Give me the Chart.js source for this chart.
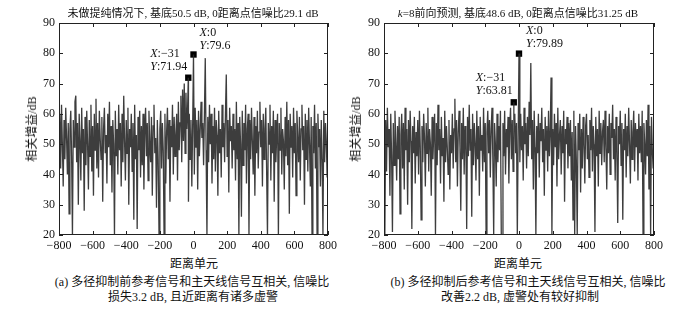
<!DOCTYPE html>
<html lang="zh">
<head>
<meta charset="UTF-8">
<title>互相关对比</title>
<script src="https://cdn.jsdelivr.net/npm/chart.js"></script>
<style>
  body { margin: 0; background: #fff; }
  #wrap { position: relative; width: 684px; height: 310px; overflow: hidden; font-family: "Liberation Serif", "Noto Sans CJK SC", serif; color: #111; }
  .panel { position: absolute; top: 0; width: 342px; height: 250px; }
  .txt { position: absolute; white-space: nowrap; transform: translate(-50%, -50%); }
  .t11 { font-size: 11px; }
  .t12 { font-size: 12px; }
  .ylab { transform: translate(-50%, -50%) rotate(-90deg); font-size: 12px; }
</style>
</head>
<body>
<div id="wrap">
  <div class="panel" style="left:0"><canvas id="chartA" width="342" height="250"></canvas></div>
  <div class="panel" style="left:342px"><canvas id="chartB" width="342" height="250"></canvas></div>

  <div class="txt t11" style="left:193px;top:12px">未做提纯情况下, 基底50.5 dB, 0距离点信噪比29.1 dB</div>
  <div class="txt t11" style="left:518px;top:12px"><i>k</i>=8前向预测, 基底48.6 dB, 0距离点信噪比31.25 dB</div>

  <div class="txt ylab" style="left:31px;top:129px">相关增益/dB</div>
  <div class="txt ylab" style="left:355px;top:129px">相关增益/dB</div>

  <div class="txt t12" style="left:194px;top:263px">距离单元</div>
  <div class="txt t12" style="left:518px;top:263px">距离单元</div>

  <div class="txt t12" style="left:192px;top:281px">(a) 多径抑制前参考信号和主天线信号互相关, 信噪比</div>
  <div class="txt t12" style="left:193px;top:296px">损失3.2 dB, 且近距离有诸多虚警</div>
  <div class="txt t12" style="left:528px;top:281px">(b) 多径抑制后参考信号和主天线信号互相关, 信噪比</div>
  <div class="txt t12" style="left:520px;top:296px">改善2.2 dB, 虚警处有较好抑制</div>
</div>

<script>
// range cells, -800..800 step 5
const xStart = -800, xStep = 5;

// (a) before multipath suppression
const gainA = [
  48, 60, 42, 63, 50, 36, 58, 45, 62, 52, 40, 57, 27, 55, 61, 46, 20, 58, 49, 64,
  66, 44, 57, 30, 60, 51, 38, 62, 47, 55, 28, 59, 43, 61, 50, 35, 58, 46, 63, 41,
  56, 33, 60, 48, 65, 42, 57, 39, 61, 52, 45, 59, 31, 55, 62, 47, 53, 37, 60, 49,
  64, 43, 56, 34, 58, 50, 20, 61, 46, 55, 40, 63, 48, 57, 36, 60, 44, 66, 51, 38,
  58, 47, 62, 30, 55, 49, 60, 41, 57, 25, 63, 45, 53, 22, 59, 48, 61, 39, 56, 43,
  60, 35, 54, 62, 46, 57, 38, 61, 50, 44, 59, 33, 56, 63, 47, 52, 29, 58, 45, 20,
  55, 61, 42, 57, 48, 20, 60, 37, 54, 62, 45, 58, 31, 56, 49, 63, 40, 59, 46, 53,
  60, 38, 64, 48, 57, 66, 44, 68, 51, 70, 47, 67, 55, 62, 31, 60, 45, 58, 36, 56,
  79.6, 40, 62, 49, 58, 35, 61, 46, 55, 64, 52, 57, 43, 60, 78.4, 48, 20, 59, 44, 63,
  50, 60, 37, 56, 45, 62, 41, 58, 53, 33, 61, 47, 55, 39, 63, 49, 57, 44, 60, 73,
  46, 58, 34, 62, 51, 56, 42, 60, 48, 55, 38, 64, 45, 57, 20, 59, 50, 26, 61, 43,
  57, 48, 63, 37, 55, 60, 20, 58, 45, 62, 51, 40, 59, 33, 56, 47, 61, 42, 54, 64,
  49, 58, 36, 60, 45, 55, 62, 41, 20, 57, 50, 63, 38, 56, 47, 61, 31, 58, 44, 53,
  60, 20, 57, 48, 62, 40, 55, 51, 35, 59, 46, 64, 43, 58, 27, 60, 49, 56, 39, 62,
  47, 57, 33, 61, 52, 44, 59, 38, 55, 63, 48, 56, 30, 60, 45, 58, 41, 62, 50, 36,
  59, 20, 56, 47, 63, 42, 57, 20, 60, 49, 55, 36, 58, 45, 20, 61, 44, 57, 51, 39,
  55
];
const extraXA = [-31];
const extraYA = [71.94];
const markXA = [-31, 0];
const markYA = [71.94, 79.6];
const markTextA = [['-31', '71.94'], ['0', '79.6']];

// (b) after multipath suppression, k=8 forward prediction
const gainB = [
  44, 20, 58, 41, 62, 49, 55, 33, 60, 46, 21, 57, 43, 61, 50, 38, 56, 45, 59, 27,
  53, 60, 42, 57, 35, 62, 48, 55, 30, 58, 44, 61, 51, 22, 56, 47, 59, 37, 54, 46,
  58, 40, 61, 49, 25, 56, 44, 60, 52, 36, 57, 47, 62, 41, 55, 50, 33, 59, 45, 54,
  60, 20, 57, 43, 63, 48, 55, 37, 59, 46, 52, 31, 61, 44, 56, 49, 40, 58, 35, 53,
  47, 60, 42, 55, 65, 44, 58, 36, 54, 61, 49, 28, 57, 45, 62, 40, 56, 51, 22, 59,
  46, 63, 48, 55, 26, 60, 43, 57, 50, 38, 61, 45, 56, 33, 59, 48, 53, 41, 62, 44,
  57, 20, 54, 61, 47, 58, 39, 55, 62, 45, 20, 57, 50, 36, 60, 44, 56, 48, 61, 20,
  20, 57, 46, 61, 40, 55, 49, 59, 37, 56, 62, 45, 58, 41, 54, 60, 47, 57, 20, 52,
  79.89, 44, 60, 48, 56, 38, 62, 50, 57, 42, 59, 46, 64, 53, 76.8, 45, 58, 35, 61, 49,
  20, 56, 47, 60, 39, 57, 51, 62, 44, 55, 33, 59, 48, 56, 41, 61, 46, 54, 72, 20,
  55, 43, 60, 49, 57, 36, 62, 45, 53, 58, 40, 56, 47, 61, 31, 55, 50, 59, 42, 57,
  46, 58, 38, 54, 25, 61, 20, 56, 44, 20, 57, 48, 60, 34, 55, 42, 59, 50, 37, 56,
  60, 45, 53, 39, 58, 48, 62, 41, 56, 50, 21, 59, 46, 55, 36, 61, 47, 57, 43, 54,
  58, 44, 61, 49, 35, 56, 47, 60, 40, 57, 52, 63, 45, 55, 38, 59, 48, 24, 56, 50,
  61, 43, 57, 25, 55, 48, 60, 39, 56, 46, 62, 50, 37, 58, 45, 54, 61, 41, 57, 49,
  55, 38, 60, 47, 56, 44, 61, 20, 57, 50, 40, 58, 46, 63, 35, 56, 20, 59, 48, 42,
  53
];
const extraXB = [-31];
const extraYB = [63.81];
const markXB = [-31, 0];
const markYB = [63.81, 79.89];
const markTextB = [['-31', '63.81'], ['0', '79.89']];

const xTicks = [-800, -600, -400, -200, 0, 200, 400, 600, 800];
const yTicks = [20, 30, 40, 50, 60, 70, 80, 90];

function buildLine(vals, ex, ey) {
  const pts = vals.map((v, i) => ({ x: xStart + i * xStep, y: v }));
  ex.forEach((x, i) => pts.push({ x: x, y: ey[i] }));
  pts.sort((a, b) => a.x - b.x);
  return pts;
}

const FONT = '"Liberation Serif", "Noto Sans CJK SC", serif';

// box + inward ticks on all four sides, like the original figure
const framePlugin = {
  id: 'frame',
  afterDraw(chart) {
    const { ctx, chartArea: a, scales } = chart;
    ctx.save();
    ctx.strokeStyle = '#222';
    ctx.lineWidth = 1;
    ctx.strokeRect(a.left + 0.5, a.top + 0.5, a.right - a.left - 1, a.bottom - a.top - 1);
    ctx.beginPath();
    xTicks.forEach(t => {
      const px = Math.round(scales.x.getPixelForValue(t)) + 0.5;
      ctx.moveTo(px, a.bottom); ctx.lineTo(px, a.bottom - 4);
      ctx.moveTo(px, a.top); ctx.lineTo(px, a.top + 4);
    });
    yTicks.forEach(t => {
      const py = Math.round(scales.y.getPixelForValue(t)) + 0.5;
      ctx.moveTo(a.left, py); ctx.lineTo(a.left + 4, py);
      ctx.moveTo(a.right, py); ctx.lineTo(a.right - 4, py);
    });
    ctx.stroke();
    ctx.restore();
  }
};

// data tips "X: .. / Y: .." next to the black markers
const tipPlugin = {
  id: 'tips',
  afterDatasetsDraw(chart, args, opts) {
    const { ctx, scales } = chart;
    ctx.save();
    ctx.fillStyle = '#111';
    ctx.textBaseline = 'middle';
    opts.xs.forEach((xv, i) => {
      const px = scales.x.getPixelForValue(xv);
      const py = scales.y.getPixelForValue(opts.ys[i]);
      const off = opts.offsets[i];
      const lines = [['X', ':' + opts.text[i][0].replace('-', '\u2212')], ['Y', ':' + opts.text[i][1]]];
      lines.forEach((ln, k) => {
        const tx = px + off[0];
        const ty = py + off[1] + k * 13;
        ctx.font = 'italic 12px ' + FONT;
        ctx.fillText(ln[0], tx, ty);
        const w = ctx.measureText(ln[0]).width;
        ctx.font = '12px ' + FONT;
        ctx.fillText(ln[1], tx + w, ty);
      });
    });
    ctx.restore();
  }
};

function makeChart(id, vals, ex, ey, mx, my, mt, yAxisW, padRight, offsets) {
  return new Chart(document.getElementById(id), {
    type: 'line',
    data: {
      datasets: [
        {
          data: buildLine(vals, ex, ey),
          borderColor: 'rgba(40,40,40,0.9)',
          borderWidth: 1.3,
          pointRadius: 0,
          tension: 0
        },
        {
          type: 'scatter',
          data: mx.map((x, i) => ({ x: x, y: my[i] })),
          pointStyle: 'rect',
          pointRadius: 4.5,
          backgroundColor: '#000',
          borderColor: '#000',
          borderWidth: 0
        }
      ]
    },
    options: {
      responsive: false,
      animation: false,
      layout: { padding: { top: 23, right: padRight, left: 0, bottom: 0 } },
      plugins: {
        legend: { display: false },
        tooltip: { enabled: false },
        tips: { xs: mx, ys: my, text: mt, offsets: offsets }
      },
      scales: {
        x: {
          type: 'linear',
          min: -800, max: 800,
          afterBuildTicks: s => { s.ticks = xTicks.map(v => ({ value: v })); },
          afterFit: s => { s.height = 15; },
          grid: { display: false, drawTicks: false },
          border: { display: false },
          ticks: {
            padding: 4,
            color: '#111',
            font: { family: FONT, size: 12 },
            callback: v => String(v).replace('-', '\u2212')
          }
        },
        y: {
          min: 20, max: 90,
          afterBuildTicks: s => { s.ticks = yTicks.map(v => ({ value: v })); },
          afterFit: s => { s.width = yAxisW; },
          grid: { display: false, drawTicks: false },
          border: { display: false },
          ticks: {
            padding: 4,
            color: '#111',
            font: { family: FONT, size: 12 }
          }
        }
      }
    },
    plugins: [framePlugin, tipPlugin]
  });
}

makeChart('chartA', gainA, extraXA, extraYA, markXA, markYA, markTextA, 59, 14,
  [[-38, -24], [6, -22]]);
makeChart('chartB', gainB, extraXB, extraYB, markXB, markYB, markTextB, 42, 30,
  [[-38, -24], [7, -23]]);
</script>
</body>
</html>
